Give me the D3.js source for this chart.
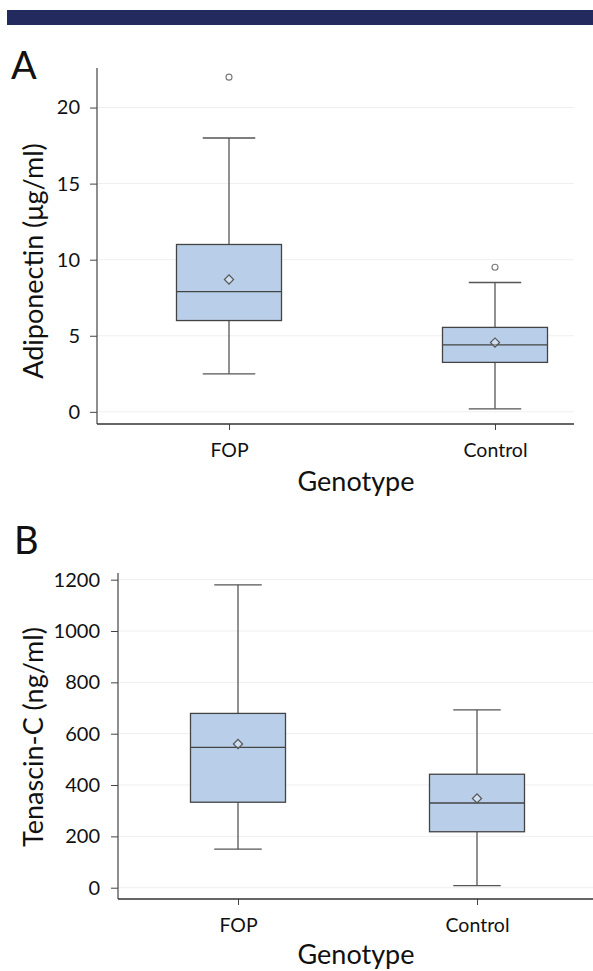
<!DOCTYPE html>
<html>
<head>
<meta charset="utf-8">
<script src="https://cdn.jsdelivr.net/npm/d3@7"></script>
<style>
  html, body { margin: 0; padding: 0; background: #fff; }
  svg { display: block; font-family: Lato, "Open Sans", sans-serif; }
</style>
</head>
<body>
<svg id="chart" width="593" height="971"></svg>
<script>
// Box plots of adiponectin (A) and tenascin-C (B) by genotype.
const groups = ['FOP', 'Control'];

// Panel A - Adiponectin (μg/ml)
const adipoStats = [
    { group: 'FOP',     lo: 2.5, q1: 6.0,  median: 7.9,  q3: 11.0, hi: 18.0, mean: 8.7 },
    { group: 'Control', lo: 0.2, q1: 3.25, median: 4.4,  q3: 5.55, hi: 8.5,  mean: 4.55 }
];
const adipoOutliers = [
    { group: 'FOP', value: 22.0 },
    { group: 'Control', value: 9.5 }
];
const adipoTicks = [0, 5, 10, 15, 20];

// Panel B - Tenascin-C (ng/ml)
const tenasStats = [
    { group: 'FOP',     lo: 150, q1: 333, median: 547, q3: 679, hi: 1180, mean: 560 },
    { group: 'Control', lo: 8,   q1: 218, median: 330, q3: 442, hi: 693,  mean: 348 }
];
const tenasOutliers = [];
const tenasTicks = [0, 200, 400, 600, 800, 1000, 1200];

const svg = d3.select('#chart');

// header band
svg.append('rect')
    .attr('x', 7).attr('y', 10)
    .attr('width', 586).attr('height', 15)
    .attr('fill', '#232b5e');

function drawPanel(opt) {
    const g = svg.append('g');
    const y = d3.scaleLinear().domain(opt.domain).range([opt.bottom, opt.top]);
    const x = d3.scalePoint().domain(groups).range(opt.centers);

    // panel letter
    g.append('text')
        .attr('x', opt.letterX).attr('y', opt.letterY)
        .attr('font-size', 38).attr('fill', '#111')
        .text(opt.letter);

    // gridlines
    g.append('g').selectAll('line')
        .data(opt.ticks)
        .join('line')
        .attr('x1', opt.left + 1).attr('x2', opt.right)
        .attr('y1', d => y(d)).attr('y2', d => y(d))
        .attr('stroke', '#efefef').attr('stroke-width', 1);

    // y axis
    const yAxis = g.append('g')
        .attr('transform', `translate(${opt.left},0)`)
        .call(d3.axisLeft(y).tickValues(opt.ticks).tickFormat(d3.format('d'))
            .tickSize(7).tickPadding(opt.tickPad).tickSizeOuter(0));
    yAxis.select('.domain').remove();
    yAxis.selectAll('.tick line').attr('stroke', '#444');
    yAxis.selectAll('.tick text')
        .attr('font-size', 20).attr('fill', '#111')
        .attr('font-family', 'Lato, "Open Sans", sans-serif');
    g.append('line')
        .attr('x1', opt.left).attr('x2', opt.left)
        .attr('y1', opt.top).attr('y2', opt.bottom)
        .attr('stroke', '#444').attr('stroke-width', 1.2);

    // x axis
    const xAxis = g.append('g')
        .attr('transform', `translate(0,${opt.bottom})`)
        .call(d3.axisBottom(x).tickSize(6).tickPadding(13).tickSizeOuter(0));
    xAxis.select('.domain').remove();
    xAxis.selectAll('.tick line').attr('stroke', '#444');
    xAxis.selectAll('.tick text')
        .attr('font-size', 19.5).attr('fill', '#111')
        .attr('font-family', 'Lato, "Open Sans", sans-serif');
    g.append('line')
        .attr('x1', opt.left).attr('x2', opt.right)
        .attr('y1', opt.bottom).attr('y2', opt.bottom)
        .attr('stroke', '#333').attr('stroke-width', 1.6);

    // axis titles
    g.append('text')
        .attr('transform', `translate(${opt.yTitleX},${opt.yTitleY}) rotate(-90)`)
        .attr('text-anchor', 'middle')
        .attr('font-size', 27).attr('fill', '#111')
        .text(opt.yTitle);
    g.append('text')
        .attr('x', 356).attr('y', opt.xTitleY)
        .attr('text-anchor', 'middle')
        .attr('font-size', 27).attr('fill', '#111')
        .text('Genotype');

    const half = opt.boxWidth / 2;
    const capHalf = opt.boxWidth / 4;
    const boxes = g.append('g').selectAll('g')
        .data(opt.stats)
        .join('g')
        .attr('transform', d => `translate(${x(d.group)},0)`);

    // whiskers
    boxes.append('line')
        .attr('x1', 0).attr('x2', 0)
        .attr('y1', d => y(d.hi)).attr('y2', d => y(d.lo))
        .attr('stroke', '#555').attr('stroke-width', 1.3);
    boxes.append('line')
        .attr('x1', -capHalf).attr('x2', capHalf)
        .attr('y1', d => y(d.hi)).attr('y2', d => y(d.hi))
        .attr('stroke', '#555').attr('stroke-width', 1.3);
    boxes.append('line')
        .attr('x1', -capHalf).attr('x2', capHalf)
        .attr('y1', d => y(d.lo)).attr('y2', d => y(d.lo))
        .attr('stroke', '#555').attr('stroke-width', 1.3);

    // box
    boxes.append('rect')
        .attr('x', -half).attr('width', opt.boxWidth)
        .attr('y', d => y(d.q3))
        .attr('height', d => y(d.q1) - y(d.q3))
        .attr('fill', '#b9cfe9')
        .attr('stroke', '#444').attr('stroke-width', 1.3);
    boxes.append('line')
        .attr('x1', -half).attr('x2', half)
        .attr('y1', d => y(d.median)).attr('y2', d => y(d.median))
        .attr('stroke', '#444').attr('stroke-width', 1.3);

    // mean diamond
    boxes.append('path')
        .attr('d', d3.symbol(d3.symbolSquare, 42)())
        .attr('transform', d => `translate(0,${y(d.mean)}) rotate(45)`)
        .attr('fill', '#ffffff').attr('fill-opacity', 0.35)
        .attr('stroke', '#555').attr('stroke-width', 1.2);

    // outliers
    g.append('g').selectAll('circle')
        .data(opt.outliers)
        .join('circle')
        .attr('cx', d => x(d.group))
        .attr('cy', d => y(d.value))
        .attr('r', 3)
        .attr('fill', '#fff')
        .attr('stroke', '#777').attr('stroke-width', 1.1);
}

drawPanel({
    letter: 'A', letterX: 11, letterY: 79,
    stats: adipoStats, outliers: adipoOutliers, ticks: adipoTicks,
    domain: [-0.8, 22.6], top: 68, bottom: 424,
    left: 97, right: 574, centers: [229, 495], boxWidth: 105,
    tickPad: 10, yTitle: 'Adiponectin (μg/ml)', yTitleX: 43, yTitleY: 261,
    xTitleY: 491
});

drawPanel({
    letter: 'B', letterX: 14, letterY: 554,
    stats: tenasStats, outliers: tenasOutliers, ticks: tenasTicks,
    domain: [-44, 1226], top: 573, bottom: 899,
    left: 118, right: 593, centers: [238, 477], boxWidth: 95,
    tickPad: 11, yTitle: 'Tenascin-C (ng/ml)', yTitleX: 43, yTitleY: 737,
    xTitleY: 964
});
</script>
</body>
</html>
